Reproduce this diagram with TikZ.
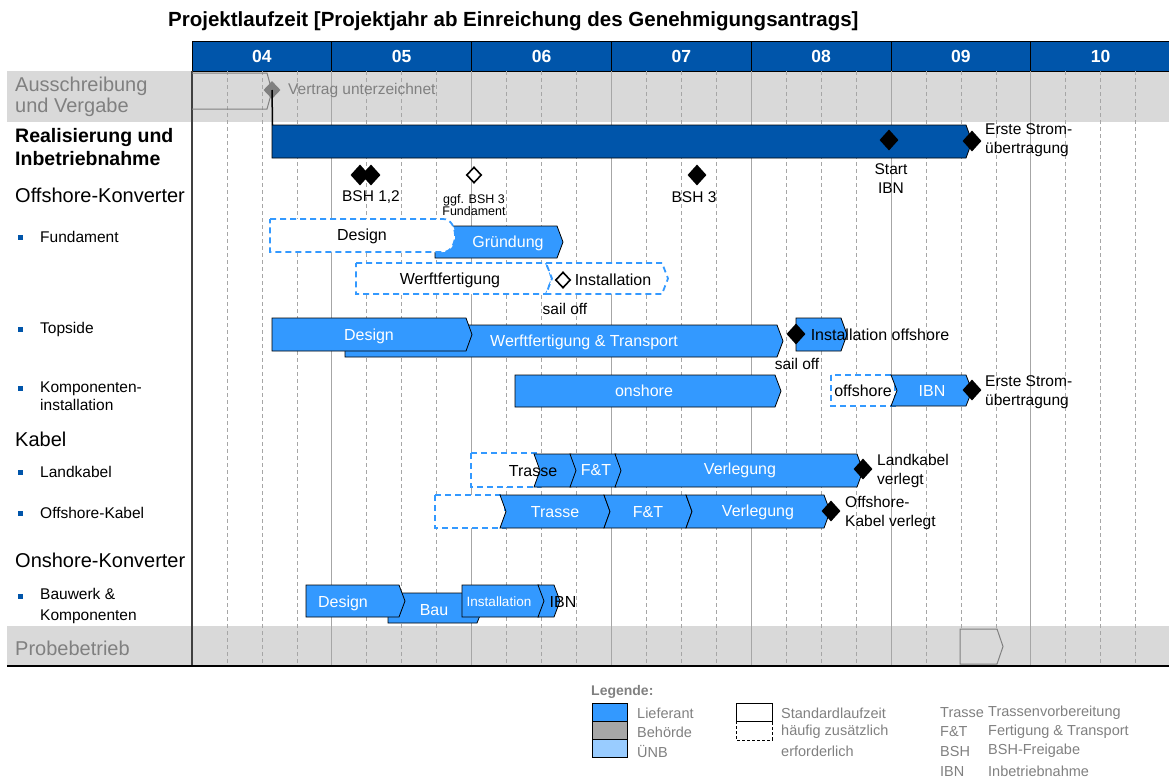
\documentclass[tikz,border=0pt]{standalone}
\usepackage{fontspec}
\setmainfont{Liberation Sans}
\usetikzlibrary{positioning,shapes.geometric,calc}

\definecolor{hdrblue}{HTML}{0055AA}
\definecolor{liefblue}{HTML}{3399FF}
\definecolor{unbblue}{HTML}{99CCFF}
\definecolor{bandgray}{HTML}{D9D9D9}
\definecolor{behgray}{HTML}{A6A6A6}
\definecolor{txtgray}{HTML}{808080}
\definecolor{gridgray}{HTML}{A6A6A6}

% chevron bar: style, x1, x2, ytop, ybot
\newcommand{\chev}[5]{\draw[#1] (#2,#4) -- ({#3-6},#4) -- (#3,{(#4+#5)/2}) -- ({#3-6},#5) -- (#2,#5) -- cycle;}
% chevron bar with notched left end
\newcommand{\nchev}[5]{\draw[#1] (#2,#4) -- ({#3-6},#4) -- (#3,{(#4+#5)/2}) -- ({#3-6},#5) -- (#2,#5) -- ({#2+6},{(#4+#5)/2}) -- cycle;}

\begin{document}
\begin{tikzpicture}[x=1pt, y=-1pt,
    lbl/.style={font=\fontsize{20}{22}\selectfont, anchor=west, align=left, inner sep=0pt},
    sublbl/.style={font=\fontsize{15.5}{18}\selectfont, anchor=west, align=left, inner sep=0pt},
    bullet/.style={fill=hdrblue, minimum size=5pt, inner sep=0pt},
    lief/.style={fill=liefblue, draw=black, line width=0.8pt},
    realbar/.style={fill=hdrblue, draw=black, line width=0.8pt},
    dbox/.style={fill=white, draw=liefblue, line width=1.8pt, dash pattern=on 6pt off 4pt},
    bartxt/.style={font=\fontsize{16}{18}\selectfont, text=white, inner sep=0pt},
    blktxt/.style={font=\fontsize{16}{18}\selectfont, inner sep=0pt},
    mstone/.style={diamond, fill=black, inner sep=0pt, minimum width=19pt, minimum height=21pt},
    mopen/.style={diamond, fill=white, draw=black, line width=1.6pt, inner sep=0pt, minimum width=15pt, minimum height=16pt},
    mslbl/.style={font=\fontsize{15.5}{19}\selectfont, align=center, inner sep=0pt},
    yr/.style={font=\bfseries\fontsize{17.5}{20}\selectfont, text=white},
    qline/.style={draw=gridgray, line width=0.6pt, dash pattern=on 4pt off 3pt},
    yline/.style={draw=gridgray, line width=1pt},
    leg/.style={font=\fontsize{14.5}{17}\selectfont, text=txtgray, anchor=west, inner sep=0pt},
    legbox/.style={draw=black, line width=0.8pt}
]
    \useasboundingbox (0,0) rectangle (1169,780);

    % Title
    \node[font=\bfseries\fontsize{20.5}{22}\selectfont, anchor=west, inner sep=0pt] (title) at (168,21)
        {Projektlaufzeit [Projektjahr ab Einreichung des Genehmigungsantrags]};

    % Bands
    \fill[bandgray] (7,71) rectangle (1169,122);
    \fill[bandgray] (7,626) rectangle (1169,666);

    % Header
    \fill[hdrblue] (192,41) rectangle (1169,71);
    \draw[line width=0.8pt] (192,71) -- (192,41) -- (1169,41);
    \draw[line width=1pt] (192,71) -- (1169,71);
    \foreach \i in {1,...,6}
        \draw[line width=1pt] ({192+139.8*\i},41) -- ++(0,30);
    \foreach \y [count=\i from 0] in {04,05,06,07,08,09,10}
        \node[yr] (yr\y) at ({192+139.8*\i+69.9},56) {\y};

    % Grid
    \foreach \i in {0,...,6}{
        \foreach \j in {1,2,3}
            \draw[qline] ({192+139.8*\i+34.95*\j},71) -- ++(0,595);
    }
    \foreach \i in {1,...,6}
        \draw[yline] ({192+139.8*\i},71) -- ++(0,595);
    \draw[draw=black!75, line width=1.2pt] (192,71) -- (192,666);
    \draw[line width=1.2pt] (7,666) -- (1169,666);

    % Row labels
    \node[lbl, text=txtgray, font=\fontsize{20}{21}\selectfont] (aus) at (15,96.5) {Ausschreibung\\und Vergabe};
    \node[lbl, font=\bfseries\fontsize{19.5}{23}\selectfont] (real) at (15,147.5) {Realisierung und\\Inbetriebnahme};
    \node[lbl] (offk) at (15,195) {Offshore-Konverter};
    \node[bullet] (b1) at (20.5,237) {};
    \node[sublbl] (fund) at (40,237) {Fundament};
    \node[bullet] (b2) at (20.5,329) {};
    \node[sublbl] (tops) at (40,329) {Topside};
    \node[bullet] (b3) at (20.5,388) {};
    \node[sublbl] (komp) at (40,396) {Komponenten-\\installation};
    \node[lbl] (kab) at (15,439) {Kabel};
    \node[bullet] (b4) at (20.5,472) {};
    \node[sublbl] (landk) at (40,472) {Landkabel};
    \node[bullet] (b5) at (20.5,513) {};
    \node[sublbl] (offkab) at (40,513) {Offshore-Kabel};
    \node[lbl] (onk) at (15,560) {Onshore-Konverter};
    \node[bullet] (b6) at (20.5,596) {};
    \node[sublbl, font=\fontsize{15.5}{21}\selectfont] (bauw) at (40,606) {Bauwerk \&\\Komponenten};
    \node[lbl, text=txtgray] (probe) at (15,648) {Probebetrieb};

    % Ausschreibung und Vergabe
    \draw[draw=txtgray, line width=1pt] (192,73) -- (267,73) -- (272,91) -- (267,109) -- (192,109);
    \node[diamond, fill=txtgray, inner sep=0pt, minimum width=17pt, minimum height=18pt] (vd) at (272,90) {};
    \node[font=\fontsize{15.5}{18}\selectfont, text=txtgray, anchor=west, inner sep=0pt] (vtxt) at (288,90) {Vertrag unterzeichnet};

    % Realisierung und Inbetriebnahme
    \chev{realbar}{272}{972}{125}{158}
    \coordinate (realtop) at (272.5,125);
    \draw[line width=1.5pt] (vd.center) -- (realtop);
    \node[mstone] (sibn) at (889,140) {};
    \node[mstone] (ers1) at (972,141) {};
    \node[mslbl] (sibntxt) at (891,179) {Start\\IBN};
    \node[mslbl, anchor=west, align=left] (ers1txt) at (985,140) {Erste Strom-\\übertragung};

    % BSH milestones
    \node[mstone] (bsh1) at (360,175) {};
    \node[mstone] (bsh2) at (371,175) {};
    \node[mslbl] (bshtxt) at (371,197) {BSH 1,2};
    \node[mopen] (bsh3f) at (474,175) {};
    \node[mslbl, font=\fontsize{12.5}{12.5}\selectfont] (bsh3ftxt) at (474,205) {ggf. BSH 3\\Fundament};
    \node[mstone] (bsh3) at (697,175) {};
    \node[mslbl] (bsh3txt) at (694,197) {BSH 3};

    % Fundament
    \chev{lief}{435}{563}{226}{258}
    \node[bartxt] (fgrund) at (508,243) {Gründung};
    \draw[dbox] (270,219) -- (443,219) .. controls (459,219) and (459,252) .. (443,252) -- (270,252) -- cycle;
    \node[blktxt] (fdes) at (362,236) {Design};
    \chev{dbox}{356}{552}{263}{294}
    \node[blktxt] (fwerft) at (450,280) {Werftfertigung};
    \nchev{dbox}{546}{668}{263}{294}
    \node[blktxt] (finst) at (613,280) {Installation};
    \node[mopen] (fsail) at (563,280) {};
    \node[mslbl] (fsailtxt) at (565,309) {sail off};

    % Topside
    \chev{lief}{345}{783}{325}{357}
    \node[bartxt] (twerft) at (584,342) {Werftfertigung \& Transport};
    \chev{lief}{272}{472}{318}{351}
    \node[bartxt] (tdes) at (369,336) {Design};
    \chev{lief}{796}{847}{318}{351}
    \node[mstone] (tsail) at (796,334) {};
    \node[blktxt] (tinst) at (880,335) {Installation offshore};
    \node[mslbl] (tsailtxt) at (797,364) {sail off};

    % Komponenteninstallation
    \chev{lief}{515}{781}{375}{407}
    \node[bartxt] (kon) at (644,391) {onshore};
    \draw[dbox] (831,375) rectangle (895,406);
    \node[blktxt] (koff) at (863,391) {offshore};
    \nchev{lief}{891}{972}{375}{406}
    \node[bartxt] (kibn) at (932,391) {IBN};
    \node[mstone] (ers2) at (972,390) {};
    \node[mslbl, anchor=west, align=left] (ers2txt) at (985,392) {Erste Strom-\\übertragung};

    % Landkabel
    \draw[dbox] (471,453) rectangle (540,487);
    \nchev{lief}{534}{577}{454}{487}
    \nchev{lief}{570}{622}{454}{487}
    \nchev{lief}{615}{863}{454}{487}
    \node[blktxt] (ltras) at (533,471) {Trasse};
    \node[bartxt] (lft) at (596,470) {F\&T};
    \node[bartxt] (lverl) at (740,470) {Verlegung};
    \node[mstone] (lend) at (863,469) {};
    \node[mslbl, anchor=west, align=left] (lendtxt) at (877,471) {Landkabel\\verlegt};

    % Offshore-Kabel
    \draw[dbox] (435,495) rectangle (505,528);
    \nchev{lief}{500}{610}{495}{528}
    \nchev{lief}{604}{692}{495}{528}
    \nchev{lief}{686}{830}{495}{528}
    \node[bartxt] (otras) at (555,512) {Trasse};
    \node[bartxt] (oft) at (648,512) {F\&T};
    \node[bartxt] (overl) at (758,512) {Verlegung};
    \node[mstone] (oend) at (831,511) {};
    \node[mslbl, anchor=west, align=left] (oendtxt) at (845,513) {Offshore-\\Kabel verlegt};

    % Bauwerk & Komponenten
    \chev{lief}{388}{483}{593}{623}
    \node[bartxt] (bbau) at (434,610) {Bau};
    \chev{lief}{306}{405}{585}{617}
    \node[bartxt] (bdes) at (343,603) {Design};
    \chev{lief}{462}{545}{585}{617}
    \node[bartxt, font=\fontsize{13.5}{16}\selectfont] (binst) at (499,602) {Installation};
    \nchev{lief}{538}{560}{585}{617}
    \node[blktxt] (bibn) at (563,602) {IBN};

    % Probebetrieb
    \chev{fill=bandgray, draw=txtgray, line width=1pt}{960}{1003}{629}{664}

    % Legend
    \node[font=\bfseries\fontsize{14}{17}\selectfont, text=txtgray, anchor=west, inner sep=0pt] (legt) at (591,692) {Legende:};
    \draw[legbox, fill=liefblue] (592,703) rectangle (627,721);
    \draw[legbox, fill=behgray] (592,721) rectangle (627,739);
    \draw[legbox, fill=unbblue] (592,739) rectangle (627,757);
    \node[leg] (lg1) at (637,713) {Lieferant};
    \node[leg] (lg2) at (637,732) {Behörde};
    \node[leg] (lg3) at (637,751) {ÜNB};
    \draw[legbox, fill=white] (736,703) rectangle (772,721);
    \draw[draw=black, line width=0.8pt, dash pattern=on 3pt off 2pt] (736,721) -- (736,740) -- (772,740) -- (772,721);
    \node[leg] (lg4) at (781,713) {Standardlaufzeit};
    \node[leg] (lg5) at (781,732) {häufig zusätzlich};
    \node[leg] (lg6) at (781,751) {erforderlich};
    \node[leg] (ab1) at (940,713) {Trasse};
    \node[leg] (ab2) at (940,732) {F\&T};
    \node[leg] (ab3) at (940,751) {BSH};
    \node[leg] (ab4) at (940,771) {IBN};
    \node[leg] (ad1) at (988,713) {Trassenvorbereitung};
    \node[leg] (ad2) at (988,732) {Fertigung \& Transport};
    \node[leg] (ad3) at (988,751) {BSH-Freigabe};
    \node[leg] (ad4) at (988,771) {Inbetriebnahme};
\end{tikzpicture}
\end{document}
